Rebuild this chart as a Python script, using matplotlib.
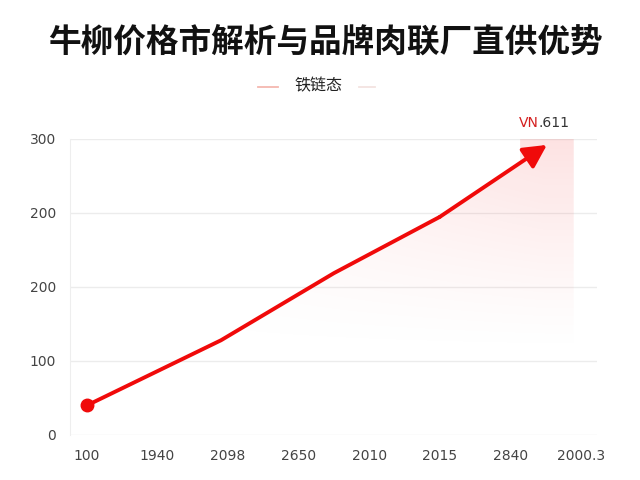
import numpy as np
import matplotlib
matplotlib.use("Agg")
import matplotlib.pyplot as plt
from matplotlib.lines import Line2D
from matplotlib.patches import Polygon

plt.rcParams['font.family'] = ['Noto Sans CJK SC', 'DejaVu Sans']

# 数据
x_labels = ['100', '1940', '2098', '2650', '2010', '2015', '2840', '2000.3']
y_ticks = [0, 75, 150, 225, 300]
y_labels = ['0', '100', '200', '200', '300']
line_x = [0, 1.9, 3.5, 5.0, 6.52]
line_y = [30, 96, 164, 221, 294]
band_start, band_end = 6.14, 6.9  # 右侧高亮区

title = '牛柳价格市解析与品牌肉联厂直供优势'
legend_label = '铁链态'
red = '#f00a0a'

fig = plt.figure(figsize=(6.4, 4.8), dpi=100)
ax = fig.add_axes([70 / 640, 45 / 480, 527 / 640, 296 / 480])
ax.set_xlim(-0.24, 7.23)
ax.set_ylim(0, 300)

# 渐变填充：线下区域 + 右侧高亮带
xs = np.linspace(-0.24, 7.23, 300)
ys = np.linspace(0, 300, 300)
gx, gy = np.meshgrid(xs, ys)
alpha = 0.12 * np.clip((gy - 80) / 220, 0, 1) ** 1.2 * np.clip(gx / 6.5, 0, 1) ** 0.8
img = np.zeros((300, 300, 4))
img[..., 0] = 0.94
img[..., 1] = 0.05
img[..., 2] = 0.05
img[..., 3] = alpha
im = ax.imshow(img, extent=(-0.24, 7.23, 0, 300), origin='lower', aspect='auto', zorder=1)

y_cut = np.interp(band_start, line_x, line_y)
verts = [(x, y) for x, y in zip(line_x, line_y) if x < band_start]
verts += [(band_start, y_cut), (band_start, 300), (band_end, 300), (band_end, 0), (line_x[0], 0)]
clip = Polygon(verts, closed=True, transform=ax.transData, facecolor='none', edgecolor='none')
ax.add_patch(clip)
im.set_clip_path(clip)

# 折线 + 箭头
ax.plot(line_x[:-1], line_y[:-1], color=red, lw=2.8, solid_capstyle='round', zorder=3)
ax.plot(line_x[0], line_y[0], 'o', color=red, ms=9, zorder=4)
ax.annotate('', xy=(line_x[-1], line_y[-1]), xytext=(line_x[-2], line_y[-2]),
            arrowprops=dict(arrowstyle='-|>,head_length=0.5,head_width=0.26', color=red,
                            lw=2.8, mutation_scale=28, shrinkA=0, shrinkB=0), zorder=4)

ax.annotate('VN', xy=(line_x[-1], line_y[-1]), xytext=(-6, 11), textcoords='offset points',
            ha='right', va='bottom', color='#d42020', fontsize=10, family='DejaVu Sans')
ax.annotate('.611', xy=(line_x[-1], line_y[-1]), xytext=(-6, 11), textcoords='offset points',
            ha='left', va='bottom', color='#333333', fontsize=10, family='DejaVu Sans')

# 坐标轴样式
ax.set_xticks(range(len(x_labels)))
ax.set_xticklabels(x_labels)
ax.set_yticks(y_ticks)
ax.set_yticklabels(y_labels)
ax.tick_params(length=0, labelsize=10, colors='#444444', pad=10)
for lab in ax.get_xticklabels() + ax.get_yticklabels():
    lab.set_family('DejaVu Sans')
ax.grid(axis='y', color='#ececec', lw=1)
ax.set_axisbelow(True)
for s in ['top', 'right', 'bottom']:
    ax.spines[s].set_visible(False)
ax.spines['left'].set_color('#eeeeee')

# 标题与图例
fig.text(0.508, 0.912, title, ha='center', va='center', fontsize=23.5, fontweight='heavy', color='#111111')
fig.text(318 / 640, 1 - 86 / 480, legend_label, ha='center', va='center', fontsize=11.5, color='#222222')
fig.add_artist(Line2D([258 / 640, 278 / 640], [1 - 87 / 480] * 2, color='#f4b8b0', lw=1.3))
fig.add_artist(Line2D([359 / 640, 375 / 640], [1 - 87 / 480] * 2, color='#f3e3e0', lw=1.3))

fig.savefig('out.png', dpi=100)
